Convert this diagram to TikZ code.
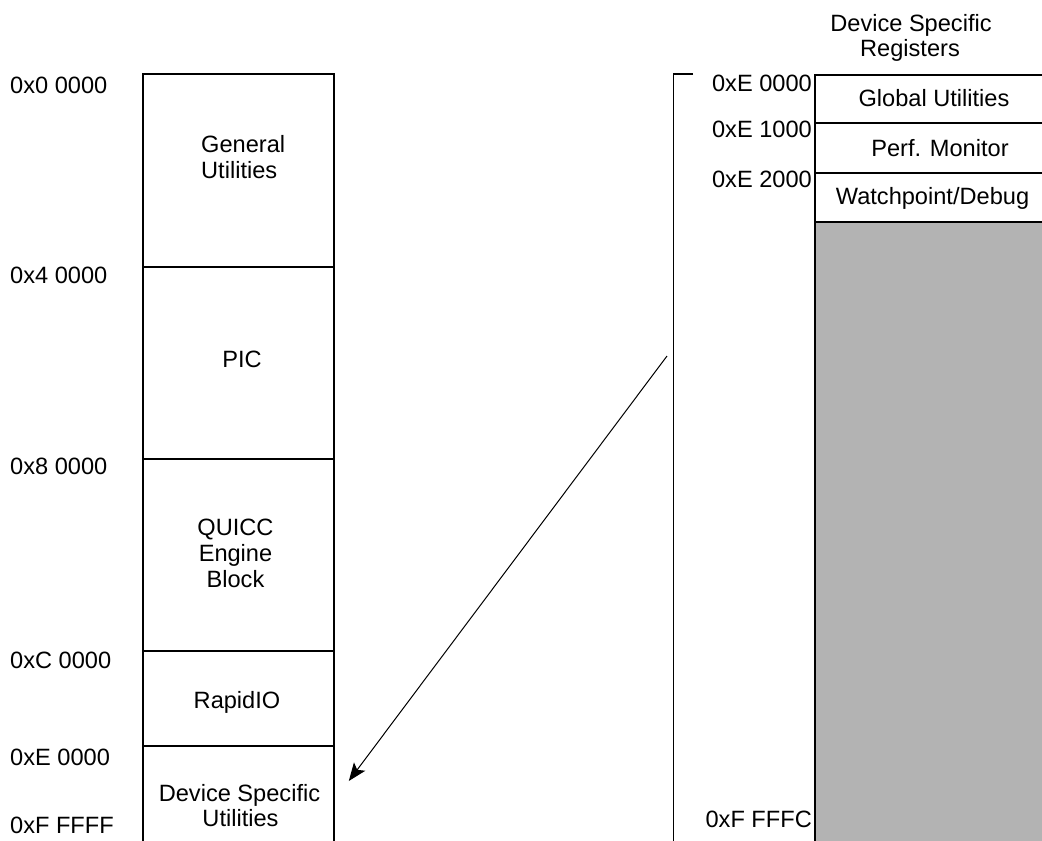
\documentclass[tikz,border=0pt]{standalone}
\usepackage{fontspec}
\setmainfont{Liberation Sans}
\usetikzlibrary{arrows.meta}
\definecolor{regfill}{RGB}{179,179,179}
\begin{document}
\begin{tikzpicture}[x=1pt,y=-1pt,
  region/.style={draw, line width=1.8pt, inner sep=0pt, anchor=north west},
  lbl/.style={inner sep=0pt, font=\fontsize{23.6}{27}\selectfont},
  addr/.style={lbl, anchor=base west},
  raddr/.style={lbl, anchor=base east},
  txt/.style={lbl, anchor=base},
  pointer/.style={line width=1pt, -{Stealth[length=18pt,width=14pt,inset=4pt]}}]
\useasboundingbox (0,0) rectangle (1042,841);
\begin{scope}
\clip (0,0) rectangle (1042,841);

% memory map on the left
\node[region, minimum width=191, minimum height=193] (gen) at (142,73) {};
\node[region, minimum width=191, minimum height=192] (pic) at (142,266) {};
\node[region, minimum width=191, minimum height=192] (qe)  at (142,458) {};
\node[region, minimum width=191, minimum height=95]  (rio) at (142,650) {};
\node[region, minimum width=191, minimum height=130] (dsu) at (142,745) {};

\node[addr] (a0) at (10,93)  {0x0 0000};
\node[addr] (a4) at (10,283) {0x4 0000};
\node[addr] (a8) at (10,474) {0x8 0000};
\node[addr] (ac) at (10,668) {0xC 0000};
\node[addr] (ae) at (10,765) {0xE 0000};
\node[addr] (af) at (10,833) {0xF FFFF};

\node[lbl, anchor=base west] (gen1) at (201,152) {General};
\node[lbl, anchor=base west] (gen2) at (201,178) {Utilities};
\node[txt] (pict) at (242,367) {PIC};
\node[txt] (qe1) at (235.5,535) {QUICC};
\node[txt] (qe2) at (235.5,561) {Engine};
\node[txt] (qe3) at (235.5,587) {Block};
\node[txt] (riot) at (237,708) {RapidIO};
\node[txt] (dsu1) at (239.5,801) {Device Specific};
\node[txt] (dsu2) at (240.5,826) {Utilities};

% expanded device specific register block on the right
\node[region, minimum width=250, minimum height=48] (glob) at (814,74)  {};
\node[region, minimum width=250, minimum height=50] (perf) at (814,122) {};
\node[region, minimum width=250, minimum height=49] (wpd)  at (814,172) {};
\node[region, fill=regfill, minimum width=250, minimum height=660] (rsv) at (814,221) {};

\node[txt] (hd1) at (911,31) {Device Specific};
\node[txt] (hd2) at (910,56) {Registers};

\node[txt] (globt) at (934,106) {Global Utilities};
\node[txt] (perft) at (940,156) {Perf. Monitor};
\node[txt] (wpdt)  at (932.5,204) {Watchpoint/Debug};

\node[raddr] (r0) at (812,91)  {0xE 0000};
\node[raddr] (r1) at (812,137) {0xE 1000};
\node[raddr] (r2) at (812,187) {0xE 2000};
\node[raddr] (r3) at (812,827) {0xF FFFC};

% bracket spanning the expanded block
\coordinate (brtop) at (693,74);
\coordinate (brcorner) at (673.5,74);
\coordinate (brbot) at (673.5,860);
\draw[line width=1.8pt] (brtop) -- (brcorner) -- (brbot);

% pointer back to the device specific utilities region
\coordinate (ptrfrom) at (667,356);
\coordinate (ptrto) at ([xshift=14pt]dsu.east |- 0,781);
\draw[pointer] (ptrfrom) -- (ptrto);
\end{scope}
\end{tikzpicture}
\end{document}
